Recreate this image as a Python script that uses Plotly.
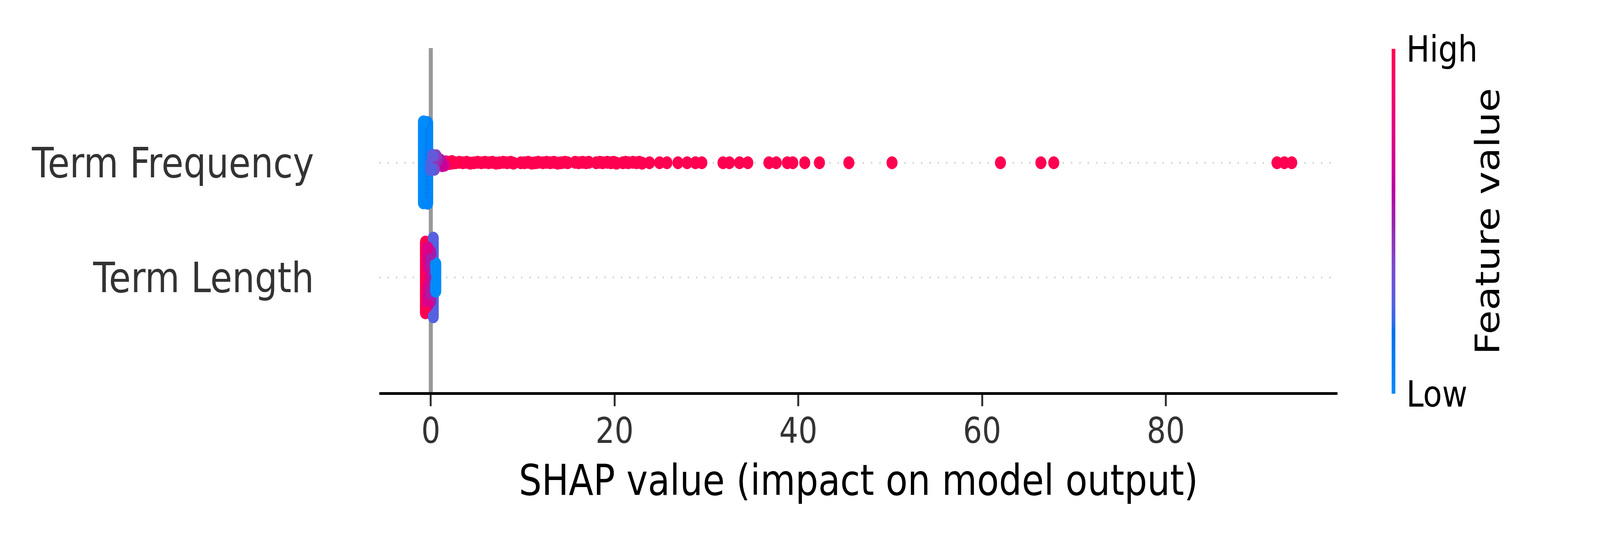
import numpy as np
import plotly.graph_objects as go

# ---------------- data ----------------
features = ["Term Length", "Term Frequency"]          # row 0, row 1
x_tick_vals = [0, 20, 40, 60, 80]
x_title = "SHAP value (impact on model output)"
cbar_labels = ["Low", "High"]
cbar_title = "Feature value"

# Term Frequency: piles of overlapping points near zero (shap, feature value 0..1, count)
tf_pile_shap = [-0.80, -0.60, -0.45, -0.34, 0.00, 0.20, 0.40, 0.58, 0.75, 1.00, 1.25, 1.50, 1.70, 2.00, 2.30]
tf_pile_feat = [0.00, 0.10, 0.14, 0.03, 0.26, 0.30, 0.36, 0.42, 0.48, 0.55, 0.64, 0.74, 0.84, 0.93, 1.00]
tf_pile_count = [80, 30, 20, 70, 10, 10, 8, 8, 5, 4, 4, 3, 2, 2, 2]

# Term Frequency: individual high-value (red) points of the long tail
tf_tail_shap = [2.7, 3.1, 3.5, 3.9, 4.3, 4.7, 5.1, 5.5, 5.9, 6.3, 6.7, 7.1, 7.5, 7.9, 8.3, 8.7, 9.0,
                9.8, 10.2, 10.6, 11.0, 11.4, 11.7, 12.2, 12.6, 13.0, 13.4, 13.8, 14.2, 14.6, 14.9,
                15.7, 16.1, 16.5, 16.9, 17.2, 18.0, 18.4, 18.7, 19.2, 19.6, 19.9, 20.2, 20.9, 21.2,
                21.5, 22.0, 22.4, 22.7, 23.0, 23.8, 24.9, 25.7, 26.9, 27.9, 28.8, 29.5, 31.8, 32.5,
                33.6, 34.5, 36.8, 37.6, 38.8, 39.4, 40.7, 42.3, 45.5, 50.2, 62.0, 66.4, 67.8,
                92.1, 92.9, 93.7]
tf_tail_feat = [1.0] * len(tf_tail_shap)

# Term Length: piles (shap, feature value 0..1, count)
tl_pile_shap = [-0.58, -0.32, 0.00, 0.27, 0.54]
tl_pile_feat = [1.00, 0.72, 0.52, 0.27, 0.00]
tl_pile_count = [37, 30, 26, 41, 15]


# ---------------- helpers ----------------
def expand(shaps, feats, counts):
    """Expand piles into points, interleaving piles in drawing order."""
    pts = []
    for s, f, n in zip(shaps, feats, counts):
        for k in range(n):
            pts.append(((k + 0.5) / n, s, f))
    pts.sort(key=lambda p: p[0])
    return [p[1] for p in pts], [p[2] for p in pts]


def beeswarm(shaps, row_height=0.4, nbins=100):
    """SHAP summary-plot style vertical layering of points sharing a bin."""
    shaps = np.asarray(shaps, dtype=float)
    quant = np.round(nbins * (shaps - shaps.min()) / (shaps.max() - shaps.min() + 1e-8))
    inds = np.argsort(quant, kind="stable")
    layer, last_bin = 0, -1
    ys = np.zeros(len(shaps))
    for ind in inds:
        if quant[ind] != last_bin:
            layer = 0
        ys[ind] = np.ceil(layer / 2) * ((layer % 2) * 2 - 1)
        layer += 1
        last_bin = quant[ind]
    ys *= 0.9 * (row_height / np.max(ys + 1))
    return ys


def shap_red_blue(nsteps=100):
    """SHAP's red_blue colormap (LCH interpolation)."""
    blue_lch = [54.0, 70.0, 4.6588]
    l_mid = 40.0
    red_lch = [54.0, 90.0, 0.35470565 + 2 * np.pi]
    l_vals = list(np.linspace(blue_lch[0], l_mid, nsteps // 2)) + list(np.linspace(l_mid, red_lch[0], nsteps // 2))
    c_vals = np.linspace(blue_lch[1], red_lch[1], nsteps)
    h_vals = np.linspace(blue_lch[2], red_lch[2], nsteps)
    M = np.array([[3.24048134, -1.53715152, -0.49853633],
                  [-0.96925495, 1.87599, 0.04155593],
                  [0.05564664, -0.20404134, 1.05731107]])
    scale = []
    for pos, L, C, H in zip(np.linspace(0, 1, nsteps), l_vals, c_vals, h_vals):
        a, b = C * np.cos(H), C * np.sin(H)
        fy = (L + 16.0) / 116.0
        fx = fy + a / 500.0
        fz = fy - b / 200.0

        def finv(t):
            return t ** 3 if t ** 3 > 0.008856 else (t - 16.0 / 116.0) / 7.787
        xyz = np.array([0.95047 * finv(fx), 1.0 * finv(fy), 1.08883 * finv(fz)])
        rgb = M @ xyz
        rgb = np.where(rgb > 0.0031308, 1.055 * np.power(np.abs(rgb), 1 / 2.4) - 0.055, 12.92 * rgb)
        rgb = np.clip(rgb, 0, 1)
        r, g, bb = (rgb * 255).round().astype(int)
        scale.append([float(pos), f"rgb({r},{g},{bb})"])
    return scale


# ---------------- build points ----------------
tf_x, tf_c = expand(tf_pile_shap, tf_pile_feat, tf_pile_count)
tf_x = tf_x + tf_tail_shap
tf_c = tf_c + tf_tail_feat
tf_y = 1 + beeswarm(tf_x)

tl_x, tl_c = expand(tl_pile_shap, tl_pile_feat, tl_pile_count)
tl_y = 0 + beeswarm(tl_x)

FONT = "DejaVu Sans"
W, H = 4800, 1380
L_M, R_M, T_M, B_M = 1138, 787, 123, 376
PW, PH = W - L_M - R_M, H - T_M - B_M

fig = go.Figure()
for xs, ys, cs, name in [(tl_x, tl_y, tl_c, features[0]), (tf_x, tf_y, tf_c, features[1])]:
    fig.add_trace(go.Scatter(
        x=xs, y=ys, mode="markers", name=name, showlegend=False, hoverinfo="skip",
        marker=dict(size=33, color=cs, coloraxis="coloraxis", line=dict(width=0), opacity=1),
    ))

shapes = [dict(type="line", xref="x", yref="paper", x0=0, x1=0, y0=0, y1=1,
               line=dict(color="#999999", width=12), layer="below")]
for i in range(len(features)):
    shapes.append(dict(type="line", xref="paper", yref="y", x0=0, x1=1, y0=i, y1=i,
                       line=dict(color="#cccccc", width=4, dash="4px,21px"), layer="below"))

fig.update_layout(
    width=W, height=H, autosize=False,
    paper_bgcolor="white", plot_bgcolor="white",
    margin=dict(l=L_M, r=R_M, t=T_M, b=B_M, autoexpand=False),
    font=dict(family=FONT, color="#333333"),
    shapes=shapes,
    xaxis=dict(
        range=[-5.6, 98.7], tickvals=x_tick_vals, ticks="outside", ticklen=29, tickwidth=6,
        tickcolor="#333333", showline=True, linewidth=7, linecolor="black",
        showgrid=False, zeroline=False, ticklabelstandoff=-14,
        tickfont=dict(family=FONT, size=90, color="#333333"),
        title=dict(text=x_title, font=dict(family=FONT, size=108, color="black"), standoff=40),
    ),
    yaxis=dict(
        range=[-1, 2], tickvals=[0, 1], ticktext=features, ticks="",
        showline=False, showgrid=False, zeroline=False, ticklabelstandoff=195,
        tickfont=dict(family=FONT, size=107, color="#333333"),
    ),
    coloraxis=dict(
        cmin=0, cmax=1, colorscale=shap_red_blue(),
        colorbar=dict(
            xref="paper", yref="paper",
            x=(4175 - L_M) / PW, xanchor="left", xpad=0,
            y=(H - B_M - 566.5) / PH, yanchor="middle", ypad=0,
            len=883, lenmode="pixels", thickness=11, thicknessmode="pixels",
            outlinewidth=0, tickvals=[0, 1], ticktext=cbar_labels,
            ticks="outside", ticklen=15, tickcolor="rgba(0,0,0,0)",
            tickfont=dict(family=FONT, size=93, color="black"),
            title=dict(text=""),
        ),
    ),
    annotations=[dict(
        text=cbar_title, textangle=-90, showarrow=False,
        xref="paper", yref="paper",
        x=(4463 - L_M) / PW, y=(H - B_M - 567) / PH,
        xanchor="center", yanchor="middle",
        font=dict(family=FONT, size=100, color="black"),
    )],
)

# fit the 4800x1380 figure to the browser viewport (no page margin, no scrollbars)
fit_js = (
    "document.documentElement.style.margin='0';document.body.style.margin='0';"
    "document.body.style.overflow='hidden';"
    "var d=document.getElementById('{plot_id}');"
    "var sx=window.innerWidth/%d, sy=window.innerHeight/%d;"
    "d.style.transformOrigin='0 0';d.style.transform='scale('+sx+','+sy+')';" % (W, H)
)
fig.write_html("out.html", post_script=fit_js, config={"displayModeBar": False})
